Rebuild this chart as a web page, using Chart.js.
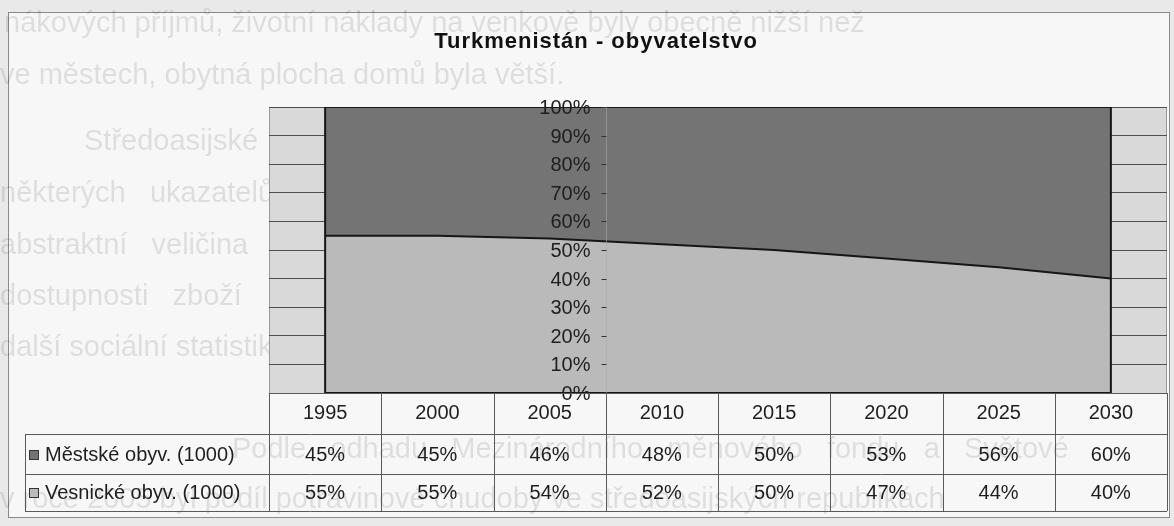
<!DOCTYPE html>
<html>
<head>
<meta charset="utf-8">
<script src="https://cdn.jsdelivr.net/npm/chart.js@4/dist/chart.umd.min.js"></script>
<style>
  html, body { margin: 0; padding: 0; background: #e9e9e9; }
  canvas { display: block; }
</style>
</head>
<body>
<canvas id="popChart" width="1174" height="526"></canvas>
<script>
// data z obrazku
const roky = ['1995', '2000', '2005', '2010', '2015', '2020', '2025', '2030'];
const mestske = [45, 45, 46, 48, 50, 53, 56, 60];
const vesnicke = [55, 55, 54, 52, 50, 47, 44, 40];
const nazvyRad = ['Městské obyv. (1000)', 'Vesnické obyv. (1000)'];
const ticksY = [0, 10, 20, 30, 40, 50, 60, 70, 80, 90, 100];
const titulek = 'Turkmenistán - obyvatelstvo';

// prosvitajici text ze skenu
const textPozadi = [
  ['nákových příjmů, životní náklady na venkově byly obecně nižší než', 4, 32],
  ['ve městech, obytná plocha domů byla větší.', 0, 84],
  ['Středoasijské', 84, 150],
  ['některých   ukazatelů', 0, 202],
  ['abstraktní   veličina', 0, 254],
  ['dostupnosti   zboží', 0, 305],
  ['další sociální statistiky', 0, 356],
  ['Podle   odhadu   Mezinárodního   měnového   fondu   a   Světové', 232, 458],
  ['v roce 2005 byl podíl potravinové chudoby ve středoasijských republikách', 0, 508]
];

const barvaTmava = '#747474';
const barvaSvetla = '#bababa';
const barvaCar = '#5a5a5a';

const pozadiPlugin = {
  id: 'pozadi',
  beforeDraw(chart) {
    const ctx = chart.ctx;
    const a = chart.chartArea;
    ctx.save();
    ctx.fillStyle = '#e9e9e9';
    ctx.fillRect(0, 0, chart.width, chart.height);
    ctx.fillStyle = '#f7f7f7';
    ctx.fillRect(8, 12, 1162, 506);
    ctx.strokeStyle = '#8a8a8a';
    ctx.lineWidth = 1;
    ctx.strokeRect(8.5, 12.5, 1161, 505);

    ctx.fillStyle = 'rgba(0,0,0,0.1)';
    ctx.font = '29px "Liberation Sans", Arial, sans-serif';
    ctx.textBaseline = 'alphabetic';
    ctx.textAlign = 'left';
    textPozadi.forEach(r => ctx.fillText(r[0], r[1], r[2]));

    ctx.fillStyle = '#d9d9d9';
    ctx.fillRect(a.left, a.top, a.right - a.left, a.bottom - a.top);
    ctx.strokeStyle = '#9a9a9a';
    ctx.strokeRect(a.left + 0.5, a.top + 0.5, a.right - a.left - 1, a.bottom - a.top);
    ctx.restore();
  },
  afterDatasetsDraw(chart) {
    const ctx = chart.ctx;
    const x = chart.scales.x;
    const y = chart.scales.y;
    const a = chart.chartArea;
    const x0 = x.getPixelForValue(0);
    const x1 = x.getPixelForValue(roky.length - 1);
    const yTop = y.getPixelForValue(100);
    const yBot = y.getPixelForValue(0);

    ctx.save();
    // okraje plochy
    ctx.strokeStyle = '#161616';
    ctx.lineWidth = 2;
    ctx.beginPath();
    ctx.moveTo(x0, yTop);
    ctx.lineTo(x0, yBot);
    ctx.lineTo(x1, yBot);
    ctx.lineTo(x1, yTop);
    ctx.stroke();

    // osa Y mezi 2005 a 2010
    const sirka = x.getPixelForValue(1) - x.getPixelForValue(0);
    const osaX = Math.round(x.getPixelForValue(2) + sirka / 2) + 0.5;
    ctx.strokeStyle = 'rgba(170,170,170,0.55)';
    ctx.lineWidth = 1;
    ctx.beginPath();
    ctx.moveTo(osaX, a.top);
    ctx.lineTo(osaX, a.bottom);
    ctx.stroke();
    ctx.strokeStyle = '#333';
    ctx.fillStyle = '#1e1e1e';
    ctx.font = '20px "Liberation Sans", Arial, sans-serif';
    ctx.textAlign = 'right';
    ctx.textBaseline = 'middle';
    ticksY.forEach(v => {
      const py = Math.round(y.getPixelForValue(v)) + 0.5;
      ctx.beginPath();
      ctx.moveTo(osaX - 5, py);
      ctx.lineTo(osaX, py);
      ctx.stroke();
      ctx.fillText(v + '%', osaX - 16, py + 1);
    });
    ctx.restore();
  },
  afterDraw(chart) {
    const ctx = chart.ctx;
    const x = chart.scales.x;
    const a = chart.chartArea;
    const sirka = x.getPixelForValue(1) - x.getPixelForValue(0);
    const levy = a.left;
    const pravy = a.right;
    const radky = [a.bottom, 434, 474, 511];
    const legendaX = 25;

    ctx.save();
    // titulek
    ctx.fillStyle = '#111';
    ctx.font = 'bold 22px "Liberation Sans", Arial, sans-serif';
    ctx.letterSpacing = '1px';
    ctx.textAlign = 'center';
    ctx.textBaseline = 'middle';
    ctx.fillText(titulek, 596, 42);
    ctx.letterSpacing = '0px';

    // mrizka tabulky
    ctx.strokeStyle = barvaCar;
    ctx.lineWidth = 1;
    ctx.beginPath();
    ctx.moveTo(levy, radky[0] + 0.5);
    ctx.lineTo(pravy, radky[0] + 0.5);
    for (let r = 1; r < radky.length; r++) {
      ctx.moveTo(legendaX, radky[r] + 0.5);
      ctx.lineTo(pravy, radky[r] + 0.5);
    }
    for (let i = 0; i <= roky.length; i++) {
      const px = Math.round(x.getPixelForValue(i) - sirka / 2) + 0.5;
      ctx.moveTo(px, radky[0]);
      ctx.lineTo(px, radky[3]);
    }
    ctx.moveTo(legendaX + 0.5, radky[1]);
    ctx.lineTo(legendaX + 0.5, radky[3]);
    ctx.stroke();

    // texty tabulky
    ctx.fillStyle = '#1e1e1e';
    ctx.font = '20px "Liberation Sans", Arial, sans-serif';
    ctx.textAlign = 'center';
    ctx.textBaseline = 'middle';
    const stredy = [413, 455, 493];
    roky.forEach((rok, i) => {
      const px = x.getPixelForValue(i);
      ctx.fillText(rok, px, stredy[0]);
      ctx.fillText(mestske[i] + '%', px, stredy[1]);
      ctx.fillText(vesnicke[i] + '%', px, stredy[2]);
    });

    // legenda v tabulce
    const barvy = [barvaTmava, barvaSvetla];
    nazvyRad.forEach((nazev, k) => {
      const cy = stredy[k + 1];
      ctx.fillStyle = barvy[k];
      ctx.fillRect(29, cy - 5, 10, 10);
      ctx.strokeStyle = '#333';
      ctx.strokeRect(29.5, cy - 4.5, 9, 9);
      ctx.fillStyle = '#1e1e1e';
      ctx.textAlign = 'left';
      ctx.fillText(nazev, 45, cy);
    });
    ctx.restore();
  }
};

const ctx = document.getElementById('popChart').getContext('2d');
const popChart = new Chart(ctx, {
  type: 'line',
  data: {
    labels: roky,
    datasets: [{
      label: nazvyRad[1],
      data: vesnicke,
      backgroundColor: barvaSvetla,
      borderColor: '#161616',
      borderWidth: 2,
      fill: 'origin',
      pointRadius: 0,
      tension: 0
    }, {
      label: nazvyRad[0],
      data: mestske,
      backgroundColor: barvaTmava,
      borderColor: '#161616',
      borderWidth: 2,
      fill: '-1',
      pointRadius: 0,
      tension: 0
    }]
  },
  options: {
    responsive: false,
    animation: false,
    layout: {
      padding: { left: 269, right: 7, top: 107, bottom: 133 }
    },
    scales: {
      x: {
        display: false,
        offset: true
      },
      y: {
        stacked: true,
        min: 0,
        max: 100,
        ticks: { display: false, stepSize: 10 },
        border: { display: false },
        grid: {
          color: '#4e4e4e',
          lineWidth: 1,
          drawTicks: false
        }
      }
    },
    plugins: {
      legend: { display: false },
      title: { display: false },
      tooltip: { enabled: false }
    }
  },
  plugins: [pozadiPlugin]
});
</script>
</body>
</html>
